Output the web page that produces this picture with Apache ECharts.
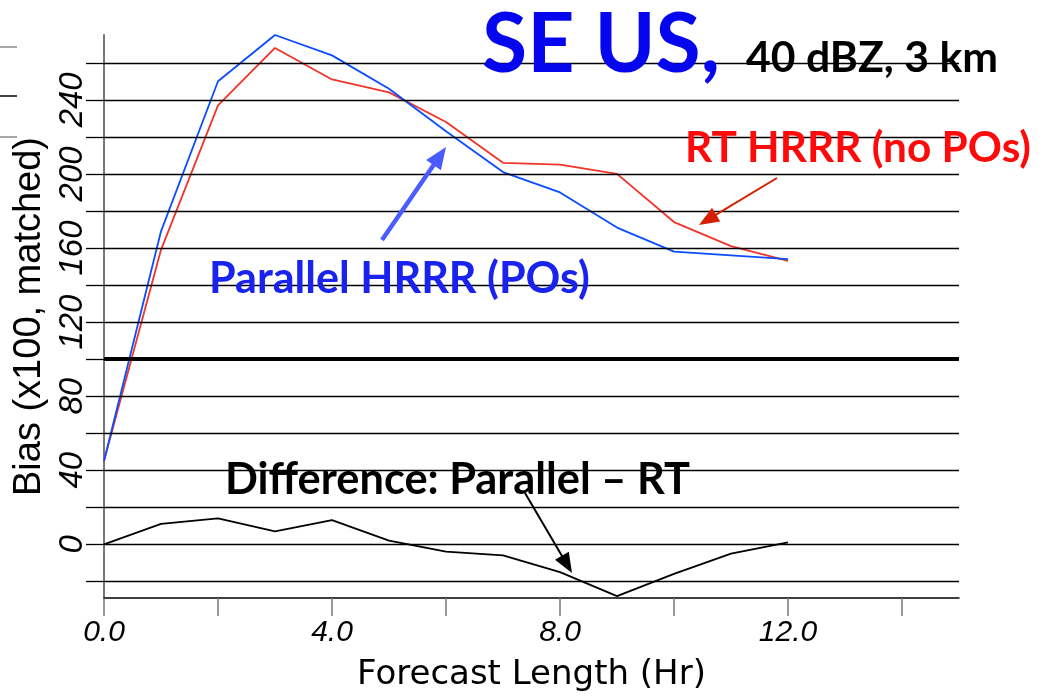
<!DOCTYPE html>
<html><head><meta charset="utf-8">
<script src="https://cdn.jsdelivr.net/npm/echarts@6/dist/echarts.min.js"></script>
<style>html,body{margin:0;padding:0;background:#fff}#c{width:1049px;height:697px}</style>
</head><body><div id="c"></div>
<script>
// ---- data ----
const hours = [0,1,2,3,4,5,6,7,8,9,10,11,12];
const parallelBias = [45,169,250,275,264,246,223,201,190,171,158,156,154];
const rtBias = [45,159,237,268,251,244,228,206,205,200,174,161,153];
const difference = [0,11,14,7,13,2,-4,-6,-15,-28,-16,-5,1];
const yTickLabels = [0,40,80,120,160,200,240];
const yGridValues = [-20,0,20,40,60,80,120,140,160,180,200,220,240,260];
const referenceLine = 100;
const xTickValues = [0,2,4,6,8,10,12,14];
const xTickLabels = [0,4,8,12];

// ---- annotation helpers ----
const ctx = document.createElement('canvas').getContext('2d');
function fit(text, family, targetW){
  ctx.font = 'bold 100px ' + family;
  const s = 100 * targetW / ctx.measureText(text).width;
  ctx.font = 'bold ' + s + 'px ' + family;
  ctx.textBaseline = 'middle';
  const d = ctx.measureText('H').actualBoundingBoxDescent;
  return {size: s, desc: d};
}
const noteFont = 'Lato';
const notes = [
  {text:'SE US,', x:482, base:72, w:238, color:'#0505ee'},
  {text:'40 dBZ, 3 km', x:746, base:72, w:252, color:'#000'},
  {text:'RT HRRR (no POs)', x:685, base:162, w:346, color:'#ff0a0a'},
  {text:'Parallel HRRR (POs)', x:209, base:293, w:381, color:'#1a22ee'},
  {text:'Difference: Parallel \u2013 RT', x:225, base:494, w:465, color:'#000'}
];
const arrows = [
  {from:[382,240], to:[446,147], color:'#4a5cff', width:4.5, head:22, hw:9},
  {from:[777,178], to:[699,225], color:'#d42000', width:2, head:20, hw:8},
  {from:[525,493], to:[572,573], color:'#000', width:2, head:20, hw:8}
];
const graphics = [];
notes.forEach(n => {
  const f = fit(n.text, noteFont, n.w);
  graphics.push({type:'text', z:10, style:{text:n.text, x:n.x, y:n.base - f.desc,
    font:'bold ' + f.size.toFixed(2) + 'px ' + noteFont, fill:n.color,
    textAlign:'left', textVerticalAlign:'middle', align:'left', verticalAlign:'middle'}});
});
arrows.forEach(a => {
  const dx = a.to[0]-a.from[0], dy = a.to[1]-a.from[1];
  const L = Math.hypot(dx,dy), ux = dx/L, uy = dy/L;
  const bx = a.to[0]-ux*a.head, by = a.to[1]-uy*a.head;
  graphics.push({type:'line', z:10, shape:{x1:a.from[0], y1:a.from[1], x2:bx+ux*2, y2:by+uy*2},
    style:{stroke:a.color, lineWidth:a.width}});
  graphics.push({type:'polygon', z:10, shape:{points:[a.to,[bx-uy*a.hw, by+ux*a.hw],[bx+uy*a.hw, by-ux*a.hw]]},
    style:{fill:a.color}});
});
[[47,'#888'],[96,'#000'],[137,'#888']].forEach(p => {
  graphics.push({type:'line', z:10, shape:{x1:0,y1:p[0],x2:17,y2:p[0]}, style:{stroke:p[1], lineWidth:1.5}});
});

const chart = echarts.init(document.getElementById('c'), null, {renderer:'canvas'});
chart.setOption({
  animation:false,
  backgroundColor:'#fff',
  grid:{left:104, right:90, top:35, bottom:97, containLabel:false},
  xAxis:{type:'value', min:0, max:15,
    name:'Forecast Length (Hr)', nameLocation:'middle', nameGap:60,
    nameTextStyle:{fontFamily:'DejaVu Sans', fontSize:34, color:'#000'},
    axisLine:{onZero:false, lineStyle:{color:'#000', width:1.5}},
    axisTick:{customValues:xTickValues, length:18, lineStyle:{color:'#777', width:1.5}},
    axisLabel:{customValues:xTickLabels, formatter:v=>Number(v).toFixed(1), fontStyle:'italic',
      fontFamily:'Liberation Sans', fontSize:30, color:'#000', margin:20},
    splitLine:{show:false}},
  yAxis:{type:'value', min:-29, max:275,
    name:'Bias (x100, matched)', nameLocation:'middle', nameGap:48,
    nameTextStyle:{fontFamily:'Liberation Sans', fontSize:38, color:'#000'},
    axisLine:{show:true, lineStyle:{color:'#777', width:2}},
    axisTick:{show:true, customValues:yGridValues.concat([referenceLine]), length:18, lineStyle:{color:'#000', width:1.3}},
    axisLabel:{customValues:yTickLabels, rotate:90, fontStyle:'italic', fontFamily:'Liberation Sans',
      fontSize:33, color:'#000', margin:15},
    splitLine:{show:false}},
  series:[
    {type:'line', name:'grid', data:[], z:1, silent:true,
      markLine:{silent:true, symbol:['none','none'], label:{show:false}, animation:false,
        lineStyle:{color:'#000', width:1.3, type:'solid'},
        data:yGridValues.map(v=>({yAxis:v})).concat([{yAxis:referenceLine, lineStyle:{color:'#000', width:4, type:'solid'}}])}},
    {type:'line', name:'RT HRRR (no POs)', data:hours.map((h,i)=>[h, rtBias[i]]), showSymbol:false, z:3,
      lineStyle:{color:'#f0342a', width:1.8}},
    {type:'line', name:'Parallel HRRR (POs)', data:hours.map((h,i)=>[h, parallelBias[i]]), showSymbol:false, z:4,
      lineStyle:{color:'#0a4cff', width:1.8}},
    {type:'line', name:'Difference: Parallel - RT', data:hours.map((h,i)=>[h, difference[i]]), showSymbol:false, z:3,
      lineStyle:{color:'#000', width:1.8}}
  ],
  graphic:graphics
});
</script></body></html>
